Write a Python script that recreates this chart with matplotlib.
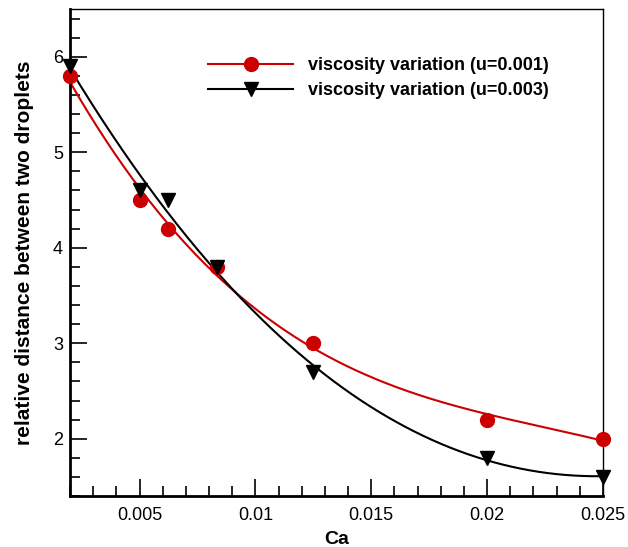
import numpy as np
import matplotlib.pyplot as plt
from matplotlib.lines import Line2D
from matplotlib.ticker import MultipleLocator

plt.rcParams['font.family'] = ['Liberation Sans', 'DejaVu Sans']

# capillary number for both cases
ca = [0.002, 0.005, 0.00625, 0.00833, 0.0125, 0.02, 0.025]
# relative distance between the two droplets
dist_u001 = [5.8, 4.5, 4.2, 3.8, 3.0, 2.2, 2.0]
dist_u003 = [5.9, 4.6, 4.5, 3.8, 2.7, 1.8, 1.6]

labels = ['viscosity variation (u=0.001)', 'viscosity variation (u=0.003)']
red = '#cc0000'

fig = plt.figure(figsize=(6.28, 5.47), dpi=100)
ax = fig.add_axes([0.1115, 0.0932, 0.8485, 0.8903])

xs = np.linspace(min(ca), max(ca), 300)
handles = []
for y, c, m, lab in [(dist_u001, red, 'o', labels[0]), (dist_u003, 'k', 'v', labels[1])]:
    # cubic curve fit through the points
    p = np.polyfit(ca, y, 3)
    ax.plot(xs, np.polyval(p, xs), color=c, lw=1.5)
    ax.plot(ca, y, ls='none', marker=m, ms=10, color=c, clip_on=False, zorder=3)
    handles.append(Line2D([], [], color=c, lw=1.5, marker=m, ms=10))

ax.set_xlim(0.002, 0.025)
ax.set_ylim(1.4, 6.5)
ax.xaxis.set_minor_locator(MultipleLocator(0.001))
ax.yaxis.set_major_locator(MultipleLocator(1))
ax.yaxis.set_minor_locator(MultipleLocator(0.2))
ax.set_xticks([0.005, 0.01, 0.015, 0.02, 0.025])
ax.set_xticklabels(['0.005', '0.01', '0.015', '0.02', '0.025'])
ax.tick_params(which='both', direction='in', top=False, right=False, labelsize=13, width=1.2)
ax.tick_params(which='major', length=12)
ax.tick_params(which='minor', length=7)
ax.tick_params(axis='x', pad=8)
ax.tick_params(axis='y', pad=5)
ax.spines['left'].set_linewidth(2)
ax.spines['bottom'].set_linewidth(2)
ax.spines['top'].set_linewidth(1)
ax.spines['right'].set_linewidth(1)

ax.set_xlabel('Ca', fontsize=14, fontweight='bold', labelpad=5)
ax.set_ylabel('relative distance between two droplets', fontsize=15, fontweight='bold', labelpad=14)

ax.legend(handles, labels, loc='upper left', bbox_to_anchor=(0.2425, 0.919), frameon=False,
          prop={'size': 13, 'weight': 'bold'}, handlelength=4.7, handletextpad=0.8,
          labelspacing=0.42, borderpad=0)

fig.savefig('out.png', dpi=100)
